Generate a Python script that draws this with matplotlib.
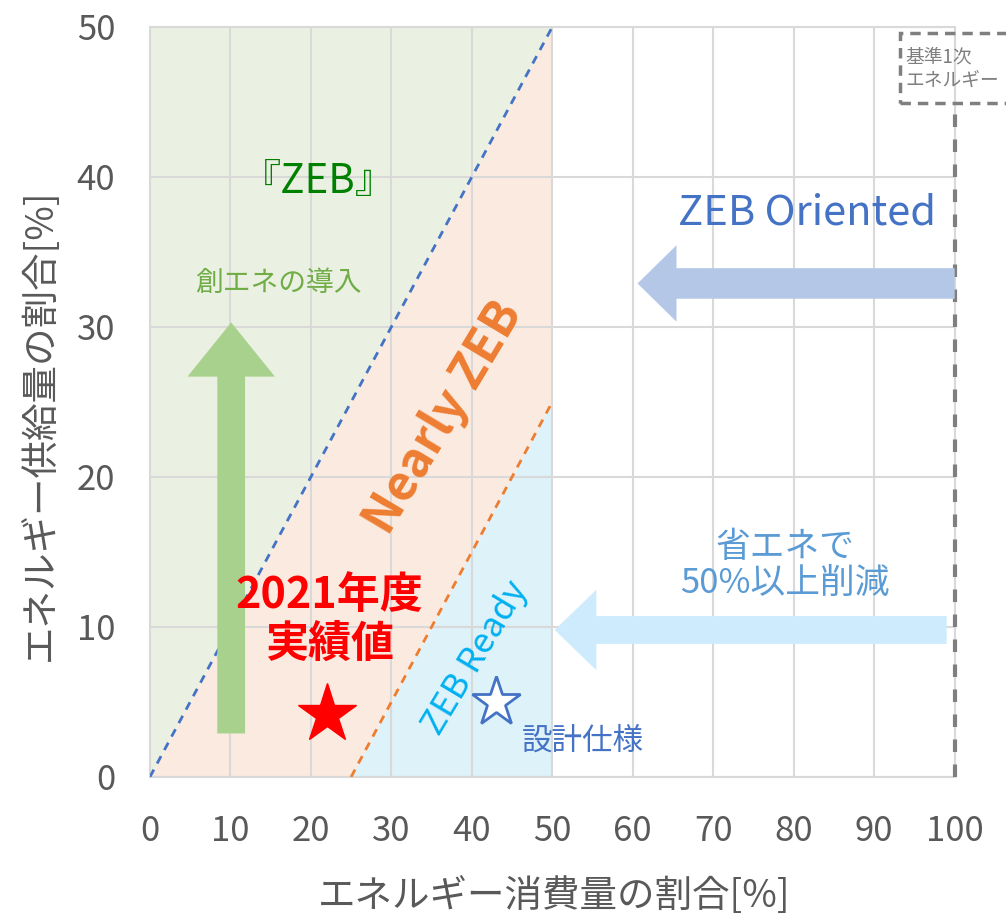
import matplotlib
matplotlib.use('Agg')
import matplotlib.pyplot as plt
from matplotlib.patches import FancyArrowPatch, Rectangle

plt.rcParams['font.family'] = ['Noto Sans CJK JP', 'DejaVu Sans']

# boundaries of the ZEB zones (x = consumption %, y = supply %)
zone_x = [0, 25, 50]
zeb_line = [0, 25, 50]        # supply = consumption
ready_line = [0, 0, 25]       # supply = consumption - 25
zone_top = [50, 50, 50]

# results
actual_2021 = (22, 4.2)
design_spec = (43, 5)

# arrows: (start, end)
arrow_sozo = ((10.1, 2.9), (10.1, 30.3))
arrow_oriented = ((100, 32.9), (60.6, 32.9))
arrow_save = ((99, 9.8), (50.3, 9.8))

x_ticks = list(range(0, 101, 10))
y_ticks = list(range(0, 51, 10))

fig = plt.figure(figsize=(10.06, 9.17), dpi=100)
ax = fig.add_axes([0.149, 0.1527, 0.8, 0.8179])
ax.set_xlim(0, 100)
ax.set_ylim(0, 50)

# zone fills
ax.fill_between(zone_x, zeb_line, zone_top, color='#EBF1E2', lw=0, zorder=0.2)
ax.fill_between(zone_x, ready_line, zeb_line, color='#FBEADF', lw=0, zorder=0.2)
ax.fill_between(zone_x, 0, ready_line, where=[False, True, True],
                color='#DEF2FA', lw=0, zorder=0.2)

ax.plot(zone_x, zeb_line, color='#4472C4', lw=2, ls=(0, (3, 2.5)), zorder=3)
ax.plot(zone_x[1:], ready_line[1:], color='#ED7D31', lw=2, ls=(0, (3, 2.5)), zorder=3)

# grid
ax.set_xticks(x_ticks)
ax.set_yticks(y_ticks)
ax.grid(True, color='#D9D9D9', lw=1.5)
ax.set_axisbelow(True)
for s in ax.spines.values():
    s.set_color('#D9D9D9')
    s.set_linewidth(1.5)
ax.tick_params(length=0, labelsize=25, labelcolor='#595959')
ax.tick_params(axis='x', pad=27)
ax.tick_params(axis='y', pad=25)
ax.set_xlabel('エネルギー消費量の割合[%]', fontsize=27, color='#595959')
ax.set_ylabel('エネルギー供給量の割合[%]', fontsize=27, color='#595959')
ax.xaxis.set_label_coords(0.502, -0.134)
ax.yaxis.set_label_coords(-0.112, 0.47)

# standard primary energy line and box
ax.plot([100, 100], [0, 44.9], color='#7F7F7F', lw=3, ls=(0, (3, 3)),
        clip_on=False, zorder=4)
ax.add_patch(Rectangle((93.2, 44.9), 20, 4.7, fill=False, ec='#7F7F7F', lw=2.5,
                       ls=(0, (3, 2)), clip_on=False, zorder=4))
ax.text(93.9, 47.2, '基準1次\nエネルギー', fontsize=13.5, color='#7F7F7F',
        ha='left', va='center', linespacing=1.2, clip_on=False)

def big_arrow(start, end, color, tail, head_w, head_l):
    ax.add_patch(FancyArrowPatch(
        start, end, arrowstyle=f'simple,head_length={head_l},head_width={head_w},tail_width={tail}',
        color=color, lw=0, shrinkA=0, shrinkB=0, zorder=5, clip_on=False))

big_arrow(*arrow_sozo, '#A9D18E', 20, 63, 39)
big_arrow(*arrow_oriented, '#B4C7E7', 22, 55, 28)
big_arrow(*arrow_save, '#CDEBFC', 20, 58, 30)

# markers
ax.plot(*actual_2021, marker='*', ms=44, color='#FF0000', mec='#FF0000', zorder=6)
ax.plot(*design_spec, marker='*', ms=37, mfc='white', mec='#4472C4', mew=2, zorder=6)

# labels
ax.text(20.9, 39.7, '『ZEB』', fontsize=29, color='#008000', ha='center', va='center')
ax.text(15.9, 32.9, '創エネの導入', fontsize=20, color='#70AD47', ha='center', va='center')
ax.text(36.4, 24.0, 'Nearly ZEB', fontsize=35, fontweight='bold', color='#ED7D31',
        rotation=59, ha='center', va='center', rotation_mode='anchor')
ax.text(40.5, 7.9, 'ZEB Ready', fontsize=25, color='#00B0F0',
        rotation=59, ha='center', va='center', rotation_mode='anchor')
ax.text(22.3, 10.5, '2021年度\n実績値', fontsize=31, fontweight='bold', color='#FF0000',
        ha='center', va='center', linespacing=1.12, zorder=7)
ax.text(53.8, 2.4, '設計仕様', fontsize=22, color='#4472C4', ha='center', va='center')
ax.text(78.9, 14.1, '省エネで\n50%以上削減', fontsize=25, color='#5B9BD5',
        ha='center', va='center', linespacing=1.05)
ax.text(81.6, 37.6, 'ZEB Oriented', fontsize=30, color='#4472C4', ha='center', va='center')

fig.savefig('out.png', dpi=100)
